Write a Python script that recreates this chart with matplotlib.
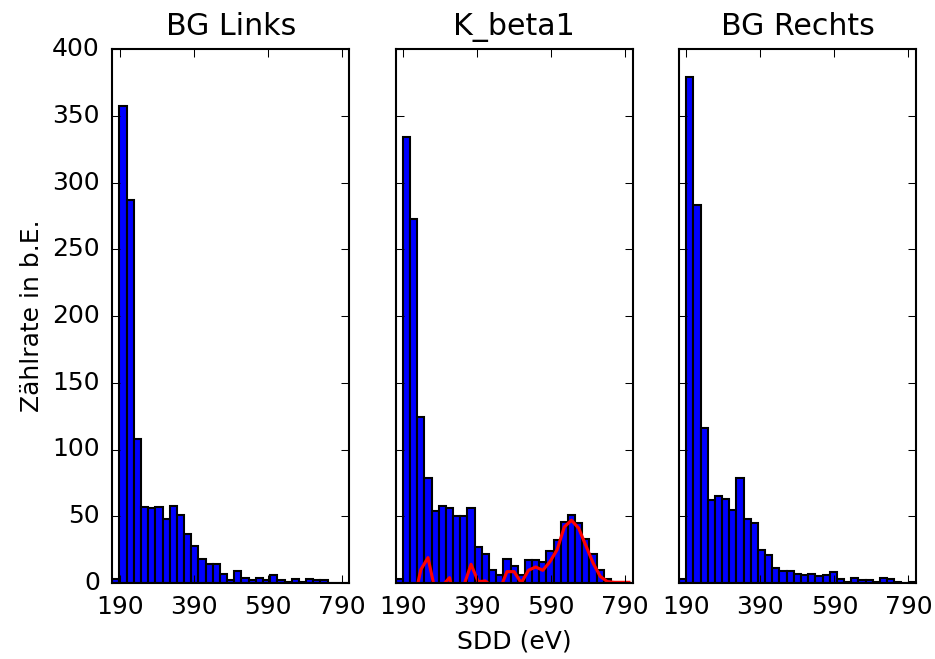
import numpy as np
import matplotlib
matplotlib.use("Agg")
import matplotlib.pyplot as plt

plt.style.use("classic")

# ---- data ----
bin_start = 170.0
bin_width = 19.39
n_bins = 33

bg_links = [3, 357, 287, 108, 57, 56, 57, 48, 58, 51, 37, 28, 18, 14, 14, 7, 2,
            9, 4, 2, 4, 2, 6, 2, 1, 3, 1, 3, 2, 2, 0, 0, 0]
k_beta1 = [3, 334, 273, 124, 79, 54, 58, 56, 50, 50, 56, 27, 22, 10, 6, 18, 13,
           6, 17, 17, 16, 24, 32, 46, 51, 45, 33, 22, 10, 3, 0, 0, 0]
k_beta1_diff = [-1, -34, -15, 10, 19, -6, -2, 4, -18, -2, 14, 1, 1.5, -3, -5,
                8.5, 8.5, 0, 9.5, 12, 9.5, 16, 25, 42, 47, 41, 28, 15, 5, 1,
                0.5, 0.5, 0.5]
bg_rechts = [3, 379, 283, 116, 62, 65, 63, 55, 79, 48, 45, 25, 21, 11, 9, 9, 7,
             6, 7, 5, 6, 8, 3, 1, 4, 2, 2, 1, 4, 3, 1, 0, 1]

titles = ["BG Links", "K_beta1", "BG Rechts"]
xticks = [190, 390, 590, 790]
yticks = [0, 50, 100, 150, 200, 250, 300, 350, 400]

edges = bin_start + bin_width * np.arange(n_bins + 1)
lefts = edges[:-1]
centers = 0.5 * (edges[:-1] + edges[1:])

W, H = 935, 659
fig = plt.figure(figsize=(W / 150, H / 150), dpi=150, facecolor="white")

ax_left_px = [112.3, 395.7, 679.0]
ax_w_px = 236.8
top_px, bot_px = 49.0, 583.0

axes = []
for i, lp in enumerate(ax_left_px):
    ax = fig.add_axes([lp / W, (H - bot_px) / H, ax_w_px / W, (bot_px - top_px) / H])
    axes.append(ax)

for ax, vals, title in zip(axes, [bg_links, k_beta1, bg_rechts], titles):
    ax.bar(lefts, vals, width=bin_width, align="edge", color="b",
           edgecolor="k", linewidth=1.0)
    ax.set_title(title, pad=6.5)
    ax.set_xlim(edges[0], edges[-1])
    ax.set_ylim(0, 400)
    ax.set_xticks(xticks)
    ax.set_yticks(yticks)
    ax.tick_params(axis="x", pad=6)
    ax.tick_params(axis="y", pad=6)

axes[1].plot(centers, k_beta1_diff, color="r", linewidth=1.5)

axes[0].set_ylabel("Zählrate in b.E.", labelpad=4)
axes[1].set_xlabel("SDD (eV)", labelpad=5)
for ax in axes[1:]:
    ax.set_yticklabels([])

fig.savefig("out.png", dpi=150, facecolor="white")
